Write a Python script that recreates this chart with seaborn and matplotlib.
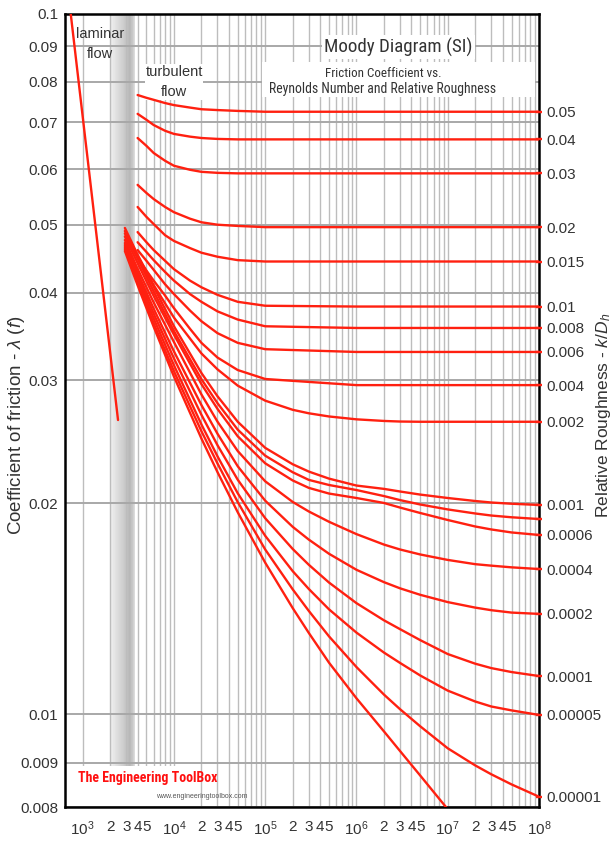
import os
import numpy as np
import pandas as pd
import matplotlib
matplotlib.use("Agg")
import matplotlib.pyplot as plt
import matplotlib.ticker as mticker
from matplotlib import font_manager as fm
from matplotlib.patches import Rectangle
import seaborn as sns

# ---- data --------------------------------------------------------------
re_laminar = [740, 2440]
f_laminar = [0.1, 0.0263]

# rough pipes, curves start at Re = 4000
re_upper = [4000, 5000, 6000, 8000, 1e4, 1.5e4, 2e4, 3e4, 5e4, 1e5, 1e6, 1e8]
f_005 = [0.0766, 0.0759, 0.0754, 0.0746, 0.0741, 0.0735, 0.0731, 0.0729, 0.0727, 0.0725, 0.0725, 0.0725]
f_004 = [0.0720, 0.0706, 0.0694, 0.0681, 0.0674, 0.0668, 0.0665, 0.0663, 0.0662, 0.0662, 0.0662, 0.0662]
f_003 = [0.0665, 0.0648, 0.0633, 0.0617, 0.0607, 0.0599, 0.0595, 0.0593, 0.0592, 0.0592, 0.0592, 0.0592]
f_002 = [0.0570, 0.0555, 0.0544, 0.0530, 0.0521, 0.0510, 0.0504, 0.0500, 0.0498, 0.0496, 0.0496, 0.0496]
f_0015 = [0.0530, 0.0513, 0.0501, 0.0483, 0.0474, 0.0463, 0.0456, 0.0450, 0.0445, 0.0443, 0.0443, 0.0443]
f_001 = [0.0488, 0.0472, 0.0460, 0.0444, 0.0432, 0.0416, 0.0407, 0.0397, 0.0388, 0.0383, 0.0382, 0.0382]
f_0008 = [0.0472, 0.0457, 0.0445, 0.0428, 0.0416, 0.0398, 0.0388, 0.0376, 0.0366, 0.0358, 0.0356, 0.0356]
f_0006 = [0.0460, 0.0444, 0.0431, 0.0411, 0.0398, 0.0377, 0.0364, 0.0350, 0.0339, 0.0332, 0.0329, 0.0329]
f_0004 = [0.0448, 0.0430, 0.0416, 0.0396, 0.0380, 0.0355, 0.0339, 0.0323, 0.0310, 0.0301, 0.0295, 0.0295]

# smoother pipes, curves start near Re = 2900
re_lower = [2900, 4000, 6000, 1e4, 2e4, 3e4, 5e4, 1e5, 2e5, 3e5, 5e5, 1e6, 2e6, 3e6, 5e6, 1e7, 2e7, 3e7, 5e7, 1e8]
f_0002 = [0.04947, 0.04530, 0.04099, 0.03684, 0.03274, 0.03107, 0.02945, 0.02803, 0.02720, 0.02689,
          0.02661, 0.02636, 0.02622, 0.02617, 0.02615, 0.02615, 0.02615, 0.02615, 0.02615, 0.02615]
f_0001 = [0.04898, 0.04505, 0.04075, 0.03581, 0.03070, 0.02844, 0.02615, 0.02400, 0.02274, 0.02220,
          0.02169, 0.02120, 0.02097, 0.02079, 0.02058, 0.02035, 0.02015, 0.02005, 0.01997, 0.01989]
f_00008 = [0.04858, 0.04470, 0.04014, 0.03524, 0.03008, 0.02780, 0.02548, 0.02339, 0.02215, 0.02160,
           0.02124, 0.02089, 0.02048, 0.02021, 0.01992, 0.01960, 0.01934, 0.01921, 0.01910, 0.01899]
f_00006 = [0.04810, 0.04406, 0.03955, 0.03483, 0.02960, 0.02728, 0.02493, 0.02281, 0.02156, 0.02104,
           0.02065, 0.02035, 0.02002, 0.01972, 0.01937, 0.01893, 0.01853, 0.01835, 0.01817, 0.01802]
f_00004 = [0.04755, 0.04324, 0.03871, 0.03399, 0.02861, 0.02616, 0.02375, 0.02150, 0.02009, 0.01947,
           0.01882, 0.01807, 0.01746, 0.01718, 0.01690, 0.01660, 0.01637, 0.01629, 0.01620, 0.01611]
f_00002 = [0.04708, 0.04269, 0.03792, 0.03296, 0.02763, 0.02514, 0.02259, 0.02017, 0.01851, 0.01775,
           0.01694, 0.01607, 0.01543, 0.01512, 0.01480, 0.01445, 0.01419, 0.01407, 0.01396, 0.01390]
f_00001 = [0.04677, 0.04223, 0.03731, 0.03221, 0.02676, 0.02421, 0.02161, 0.01904, 0.01721, 0.01634,
           0.01541, 0.01440, 0.01361, 0.01322, 0.01275, 0.01218, 0.01180, 0.01163, 0.01148, 0.01133]
f_000005 = [0.04647, 0.04177, 0.03672, 0.03149, 0.02592, 0.02334, 0.02067, 0.01797, 0.01600, 0.01509,
            0.01411, 0.01307, 0.01224, 0.01183, 0.01135, 0.01080, 0.01042, 0.01025, 0.01012, 0.00998]
f_000001 = [0.04617, 0.04132, 0.03613, 0.03088, 0.02535, 0.02280, 0.02008, 0.01718, 0.01507, 0.01404,
            0.01291, 0.01167, 0.01066, 0.01016, 0.009737, 0.009285, 0.008936, 0.008729, 0.008499, 0.008227]

re_smooth = [2900, 4000, 6000, 1e4, 2e4, 3e4, 5e4, 1e5, 2e5, 3e5, 5e5, 1e6, 2e6, 3e6, 5e6, 1e7]
f_smooth = [0.04586, 0.04096, 0.03573, 0.03034, 0.02475, 0.02216, 0.01942, 0.01645, 0.01417, 0.01306,
            0.01184, 0.01053, 0.009631, 0.009231, 0.008699, 0.00796]

rough_labels = ["0.05", "0.04", "0.03", "0.02", "0.015", "0.01", "0.008", "0.006", "0.004",
                "0.002", "0.001", "", "0.0006", "0.0004", "0.0002", "0.0001", "0.00005", "0.00001"]
upper_curves = [f_005, f_004, f_003, f_002, f_0015, f_001, f_0008, f_0006, f_0004]
lower_curves = [f_0002, f_0001, f_00008, f_00006, f_00004, f_00002, f_00001, f_000005, f_000001]

y_ticks = [0.008, 0.009, 0.01, 0.02, 0.03, 0.04, 0.05, 0.06, 0.07, 0.08, 0.09, 0.1]
y_ticklabels = ["0.008", "0.009", "0.01", "0.02", "0.03", "0.04", "0.05", "0.06", "0.07", "0.08", "0.09", "0.1"]

# ---- long table for seaborn ----------------------------------------------
rows = []
for i, fv in enumerate(upper_curves):
    rows += [("u%d" % i, r, f) for r, f in zip(re_upper, fv)]
for i, fv in enumerate(lower_curves):
    rows += [("l%d" % i, r, f) for r, f in zip(re_lower, fv)]
rows += [("smooth", r, f) for r, f in zip(re_smooth, f_smooth)]
rows += [("laminar", r, f) for r, f in zip(re_laminar, f_laminar)]
df = pd.DataFrame(rows, columns=["curve", "Re", "f"])

# ---- the y axis of the original is stretched below 0.01 ------------------
knot_f = np.log10([0.008, 0.009, 0.01, 0.1])
knot_p = np.array([0.0, 44.6, 93.3, 793.3])


def _pw(v, xs, ys):
    out = np.interp(v, xs, ys)
    lo = v < xs[0]
    hi = v > xs[-1]
    out = np.where(lo, ys[0] + (v - xs[0]) * (ys[1] - ys[0]) / (xs[1] - xs[0]), out)
    out = np.where(hi, ys[-1] + (v - xs[-1]) * (ys[-1] - ys[-2]) / (xs[-1] - xs[-2]), out)
    return out


def fwd(v):
    v = np.clip(np.asarray(v, dtype=float), 1e-9, None)
    return _pw(np.log10(v), knot_f, knot_p)


def inv(p):
    return 10 ** _pw(np.asarray(p, dtype=float), knot_p, knot_f)


# ---- fonts -------------------------------------------------------------------
_files = {os.path.basename(e.fname).lower(): e.fname for e in fm.fontManager.ttflist}


def font_file(names):
    for n in names:
        if n.lower() in _files:
            return _files[n.lower()]
    return None


_narrow = font_file(["LiberationSansNarrow-Regular.ttf", "RobotoCondensed-Regular.ttf",
                     "NotoSans-Condensed.ttf", "NotoSans-SemiCondensed.ttf"])
_logo = font_file(["NotoSans-ExtraCondensedBold.ttf", "NotoSans-ExtraCondensedBlack.ttf",
                   "RobotoCondensed-Bold.ttf", "LiberationSansNarrow-Bold.ttf",
                   "NotoSans-CondensedBold.ttf"])
fp_narrow = fm.FontProperties(fname=_narrow) if _narrow else fm.FontProperties(family="Liberation Sans")
fp_logo = fm.FontProperties(fname=_logo) if _logo else fm.FontProperties(family="Liberation Sans", weight="bold")

# ---- figure ----------------------------------------------------------------
sns.set_style("white")
plt.rcParams["font.family"] = ["Liberation Sans", "DejaVu Sans"]
plt.rcParams["mathtext.fontset"] = "custom"
plt.rcParams["mathtext.rm"] = "Liberation Sans"
plt.rcParams["mathtext.it"] = "Liberation Sans:italic"

fig = plt.figure(figsize=(6.16, 8.42), dpi=100)
ax = fig.add_axes([0.1055, 0.0412, 0.7695, 0.9422])
ax.set_xscale("log")
ax.set_yscale("function", functions=(fwd, inv))
ax.set_xlim(640, 1e8)
ax.set_ylim(0.008, 0.1)

# critical zone shading
edges = np.geomspace(2000, 3750, 41)
shade = np.interp(np.linspace(0, 1, 40), [0, 0.55, 0.8, 0.9, 1.0], [0.94, 0.80, 0.72, 0.78, 0.86])
for a, b, s in zip(edges[:-1], edges[1:], shade):
    ax.axvspan(a, b, color=str(s), lw=0, zorder=0.2)

sns.lineplot(data=df, x="Re", y="f", units="curve", estimator=None, sort=False,
             color="#ff2010", lw=1.7, ax=ax, legend=False, zorder=3)

# ticks and grid
decades = [1e3, 1e4, 1e5, 1e6, 1e7, 1e8]
ax.set_xticks(decades)
ax.set_xticklabels([r"$10^{%d}$" % int(np.log10(d)) for d in decades])
minor = [m * d for d in decades[:-1] for m in range(2, 10)]
ax.set_xticks(minor, minor=True)
ax.set_xticklabels([str(m) if m <= 5 else "" for d in decades[:-1] for m in range(2, 10)], minor=True)
ax.set_yticks(y_ticks)
ax.set_yticklabels(y_ticklabels)
ax.yaxis.set_minor_locator(mticker.NullLocator())
ax.tick_params(axis="both", which="both", length=0, labelsize=11, labelcolor="#333333")
ax.tick_params(axis="x", which="both", pad=9)
ax.tick_params(axis="y", pad=5)
ax.grid(True, axis="x", which="both", color="#bdbdbd", lw=1.0)
ax.grid(True, axis="y", which="major", color="#a8a8a8", lw=1.4)
ax.set_axisbelow(True)
for sp in ax.spines.values():
    sp.set_linewidth(1.8)
    sp.set_color("black")
ax.set_xlabel("")
ax.set_ylabel(r"Coefficient of friction - $\lambda$ $(f)$", fontsize=13.5, color="#333333")
ax.yaxis.set_label_coords(-0.080, 0.482)

# right axis with roughness labels
ax2 = ax.twinx()
ax2.set_yscale("function", functions=(fwd, inv))
ax2.set_ylim(ax.get_ylim())
ends = [c[-1] for c in upper_curves] + [c[-1] for c in lower_curves]
ax2.set_yticks(ends)
ax2.set_yticklabels(rough_labels)
ax2.yaxis.set_minor_locator(mticker.NullLocator())
ax2.tick_params(axis="y", colors="#ff2010", length=5, width=1.7, direction="inout",
                labelsize=11, labelcolor="#333333", pad=3)
for sp in ax2.spines.values():
    sp.set_visible(False)
ax2.set_ylabel(r"Relative Roughness - $k/D_h$", fontsize=12.5, color="#333333")
ax2.yaxis.set_label_coords(1.116, 0.494)

# annotations
ax.text(0.074, 0.984, "laminar\nflow", transform=ax.transAxes, ha="center", va="top",
        fontsize=10.5, color="#333333", linespacing=1.6)
ax.text(0.230, 0.936, "turbulent\nflow", transform=ax.transAxes, ha="center", va="top",
        fontsize=10.5, color="#333333", linespacing=1.55, zorder=2.5,
        bbox=dict(fc="white", ec="none", pad=0.5))

ax.add_patch(Rectangle((0.4156, 0.8954), 0.576, 0.0441, transform=ax.transAxes,
                       fc="white", ec="none", zorder=2))
t_title = ax.text(0.703, 0.958, "Moody Diagram (SI)", transform=ax.transAxes, ha="center",
                  va="center", color="#333333", fontproperties=fp_narrow, fontsize=12, zorder=4,
                  bbox=dict(fc="white", ec="none", pad=1.5))
t_sub1 = ax.text(0.671, 0.9256, "Friction Coefficient vs.", transform=ax.transAxes, ha="center",
                 va="center", color="#333333", fontproperties=fp_narrow, fontsize=8.5, zorder=4)
t_sub2 = ax.text(0.671, 0.9055, "Reynolds Number and Relative Roughness", transform=ax.transAxes,
                 ha="center", va="center", color="#333333", fontproperties=fp_narrow, fontsize=8.5,
                 zorder=4)

# logo
ax.add_patch(Rectangle((0.003, 0.002), 0.275, 0.05, transform=ax.transAxes,
                       fc="white", ec="none", zorder=2))
t_logo = ax.text(0.175, 0.037, "The Engineering ToolBox", transform=ax.transAxes, ha="center",
                 va="center", color="#ff1010", fontproperties=fp_logo, fontsize=9, zorder=4)
ax.text(0.289, 0.013, "www.engineeringtoolbox.com", transform=ax.transAxes, ha="center",
        va="center", fontsize=5, color="#555555", zorder=4)

# size the narrow texts to the widths they take in the original (pixels)
fig.canvas.draw()
rend = fig.canvas.get_renderer()
for t, target in [(t_title, 147), (t_sub1, 117), (t_sub2, 227), (t_logo, 140)]:
    w = t.get_window_extent(renderer=rend).width
    t.set_fontsize(t.get_fontsize() * target / w)

fig.savefig("out.png", dpi=100)
